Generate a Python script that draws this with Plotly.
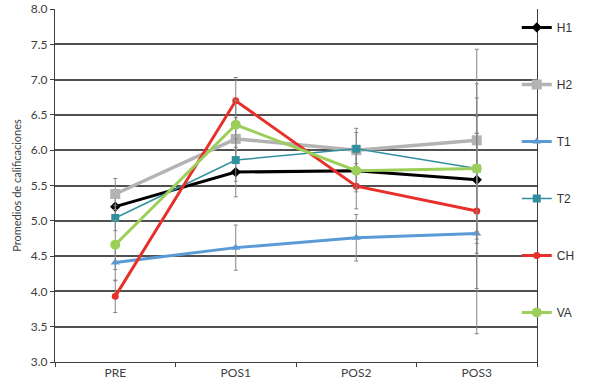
import plotly.graph_objects as go

categories = ["PRE", "POS1", "POS2", "POS3"]
series_names = ["H1", "H2", "T1", "T2", "CH", "VA"]
h1 = [5.20, 5.69, 5.71, 5.58]
h2 = [5.38, 6.16, 6.00, 6.14]
t1 = [4.41, 4.62, 4.76, 4.82]
t2 = [5.04, 5.86, 6.02, 5.74]
ch = [3.93, 6.70, 5.49, 5.14]
va = [4.66, 6.36, 5.71, 5.74]
err_h1 = [0.20, 0.35, 0.30, 0.90]
err_h2 = [0.22, 0.30, 0.25, 1.29]
err_t1 = [0.26, 0.32, 0.33, 1.42]
err_t2 = [0.18, 0.30, 0.29, 1.00]
err_ch = [0.23, 0.33, 0.32, 1.10]
err_va = [0.35, 0.35, 0.25, 1.20]
y_ticks = [3.0, 3.5, 4.0, 4.5, 5.0, 5.5, 6.0, 6.5, 7.0, 7.5, 8.0]

values = [h1, h2, t1, t2, ch, va]
errors = [err_h1, err_h2, err_t1, err_t2, err_ch, err_va]
styles = [
    dict(color="#000000", width=3, symbol="diamond", size=8),
    dict(color="#b3b3b3", width=3.5, symbol="square", size=10),
    dict(color="#5b9bd5", width=3, symbol="triangle-up", size=8),
    dict(color="#31909f", width=1.5, symbol="square", size=8),
    dict(color="#e8302a", width=3, symbol="circle", size=7),
    dict(color="#9bcf5a", width=3, symbol="circle", size=10),
]

fig = go.Figure()
for name, vals, errs, st in zip(series_names, values, errors, styles):
    fig.add_trace(go.Scatter(
        x=categories, y=vals, name=name, legendgroup=name,
        mode="lines+markers",
        line=dict(color=st["color"], width=st["width"]),
        marker=dict(symbol=st["symbol"], size=st["size"], color=st["color"]),
        error_y=dict(type="data", array=errs, visible=True,
                     color="#858585", thickness=1, width=2),
    ))

fig.update_layout(
    width=591, height=387,
    margin=dict(l=55, r=54, t=9, b=25, autoexpand=False),
    paper_bgcolor="white", plot_bgcolor="white",
    font=dict(family="Lato, Open Sans, sans-serif", color="#404040", size=12),
    showlegend=True,
    legend=dict(x=0.958, y=0.989, xanchor="left", yanchor="top",
                tracegroupgap=38, itemwidth=30, maxheight=375,
                font=dict(family="Arial, Liberation Sans, sans-serif", size=12, color="#333333"),
                bgcolor="rgba(0,0,0,0)"),
)
fig.update_xaxes(
    type="category", range=[-0.5, 3.5],
    showgrid=False, showline=True, linecolor="#404040", linewidth=1,
    ticks="outside", tickson="boundaries", ticklen=4, tickcolor="#404040",
    tickfont=dict(size=12, color="#404040"),
)
fig.update_yaxes(
    range=[3.0, 8.0], tickvals=y_ticks, ticktext=[f"{v:.1f}" for v in y_ticks],
    showgrid=True, gridcolor="#505050", gridwidth=1.5,
    showline=True, linecolor="#404040", linewidth=1, mirror=True,
    ticks="outside", ticklen=4, tickcolor="#404040",
    tickfont=dict(size=12, color="#404040"),
    title=dict(text="Promedios de calificaciones", font=dict(size=11, color="#404040"), standoff=6),
    zeroline=False,
)
fig.write_html("out.html", config={"displayModeBar": False},
               post_script="document.body.style.margin='0';document.body.style.overflow='hidden';")
